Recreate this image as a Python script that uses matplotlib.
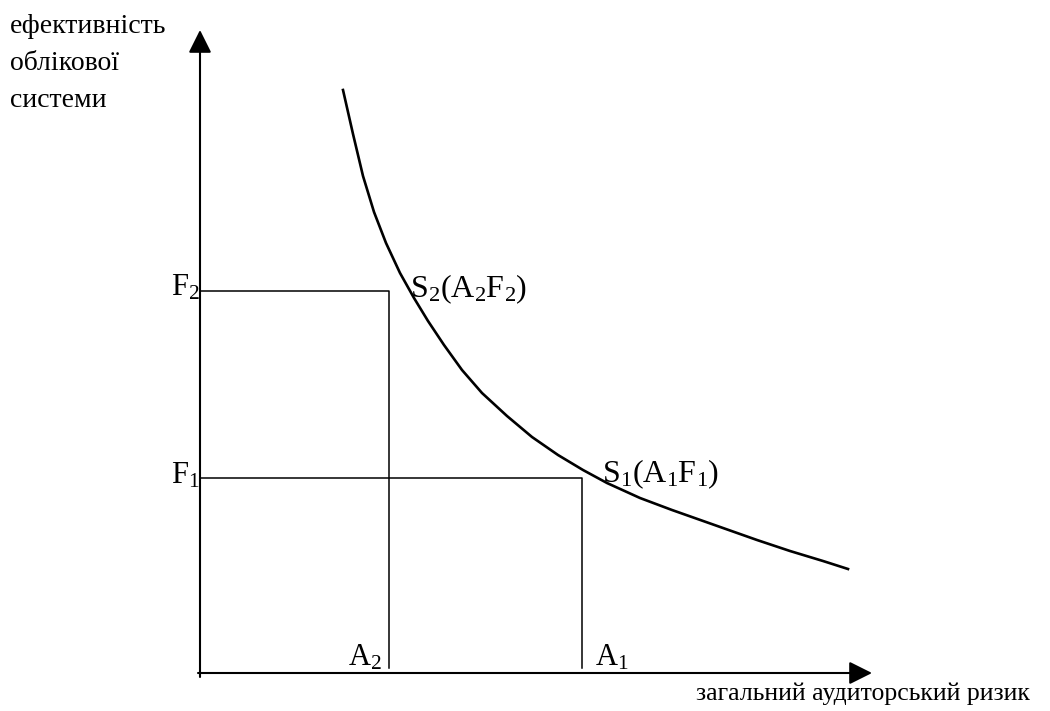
import matplotlib
matplotlib.use("Agg")
import matplotlib.pyplot as plt

plt.rcParams["font.family"] = ["Liberation Serif", "DejaVu Serif"]
plt.rcParams["mathtext.fontset"] = "custom"
plt.rcParams["mathtext.rm"] = "Liberation Serif"
plt.rcParams["mathtext.it"] = "Liberation Serif"

# curve of accounting system efficiency vs overall audit risk
curve_x = [1.43, 1.53, 1.63, 1.74, 1.86, 2.00, 2.14, 2.28, 2.44, 2.62, 2.82, 3.07,
           3.32, 3.58, 3.83, 4.07, 4.40, 4.72, 5.23, 5.57, 5.90, 6.23, 6.48]
curve_y = [5.83, 5.39, 4.97, 4.61, 4.30, 4.00, 3.75, 3.52, 3.28, 3.03, 2.80, 2.57,
           2.36, 2.18, 2.03, 1.90, 1.75, 1.63, 1.45, 1.33, 1.22, 1.12, 1.04]

# points S1, S2
a_levels = [3.82, 1.89]
f_levels = [1.95, 3.82]
a_labels = ["$\\mathregular{A_1}$", "$\\mathregular{A_2}$"]
f_labels = ["$\\mathregular{F_1}$", "$\\mathregular{F_2}$"]
s_labels = ["$\\mathregular{S_1(A_1F_1)}$", "$\\mathregular{S_2(A_2F_2)}$"]

y_title = ["ефективність", "облікової", "системи"]
x_title = "загальний аудиторський ризик"

FS_LAB = 22
FS_S = 23

fig = plt.figure(figsize=(10.5, 7.11), dpi=100)
ax = fig.add_axes([0, 0, 1, 1])
ax.set_xlim(-2.0, 8.5)
ax.set_ylim(-0.38, 6.73)
ax.axis("off")

# axes with arrows
arrow = dict(arrowstyle="-|>,head_length=1.0,head_width=0.5", color="black",
             lw=1.5, mutation_scale=14, shrinkA=0, shrinkB=0)
ax.annotate("", xy=(0, 6.43), xytext=(0, -0.04), arrowprops=arrow)
ax.annotate("", xy=(6.72, 0), xytext=(-0.02, 0), arrowprops=arrow)

# curve
ax.plot(curve_x, curve_y, color="black", lw=1.9, solid_joinstyle="round")

# rectangles to the points
for a, f in zip(a_levels, f_levels):
    ax.plot([0, a, a], [f, f, 0.05], color="black", lw=1.1)

ax.text(-0.005, f_levels[1] - 0.04, f_labels[1], fontsize=FS_LAB, ha="right", va="baseline")
ax.text(-0.005, f_levels[0] - 0.05, f_labels[0], fontsize=FS_LAB, ha="right", va="baseline")
ax.text(1.82, 0.07, a_labels[1], fontsize=FS_LAB, ha="right", va="baseline")
ax.text(3.95, 0.07, a_labels[0], fontsize=FS_LAB, ha="left", va="baseline")
ax.text(2.10, 3.76, s_labels[1], fontsize=FS_S, ha="left", va="baseline")
ax.text(4.02, 1.91, s_labels[0], fontsize=FS_S, ha="left", va="baseline")

# axis titles
for i, line in enumerate(y_title):
    ax.text(-1.9, 6.40 - 0.37 * i, line, fontsize=20, ha="left", va="baseline")
ax.text(8.30, -0.27, x_title, fontsize=18.5, ha="right", va="baseline")

fig.savefig("out.png", dpi=100)
